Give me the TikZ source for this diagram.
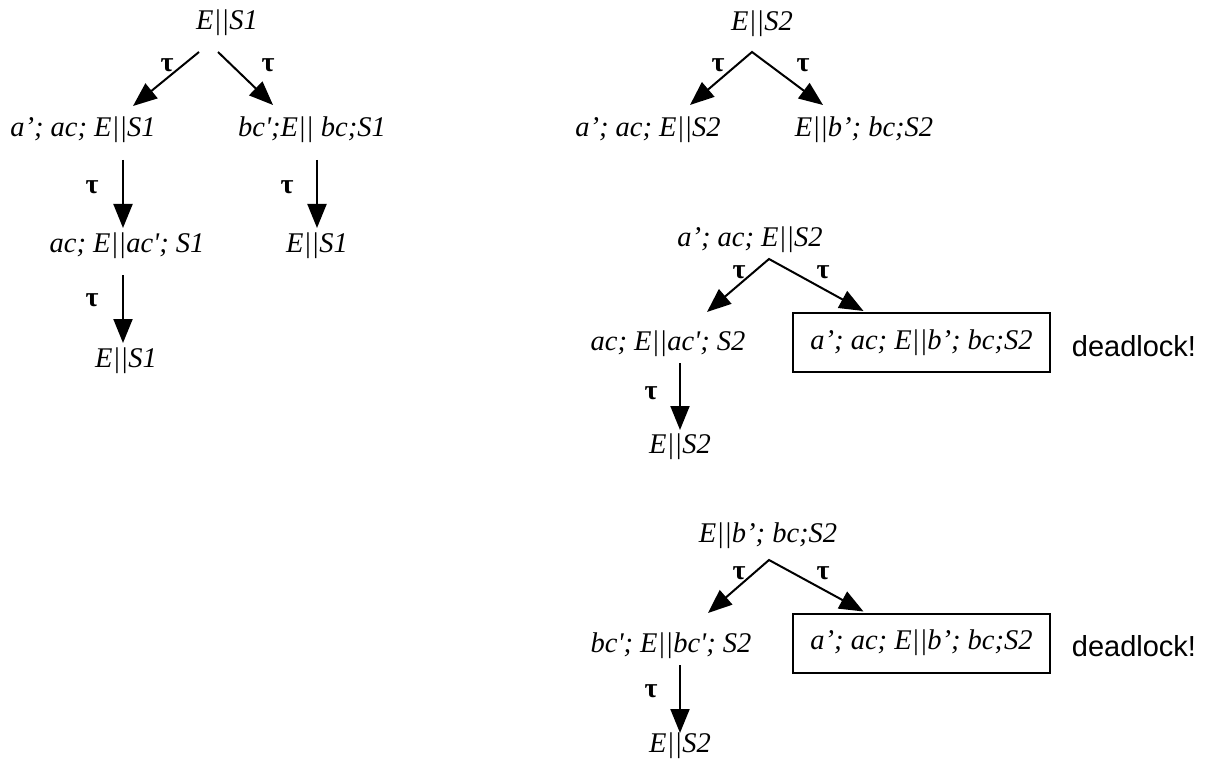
\documentclass[tikz,border=0pt]{standalone}
\usepackage{fontspec}
\setmainfont{Liberation Serif}
\newfontfamily\dlsans{Liberation Sans}
\usetikzlibrary{arrows.meta}
\begin{document}
\begin{tikzpicture}[x=1pt,y=-1pt,
  st/.style={anchor=base,inner sep=0pt,font=\fontsize{28.5}{32}\selectfont\itshape},
  tau/.style={inner sep=0pt,font=\fontsize{28}{32}\selectfont\bfseries\upshape},
  arr/.style={line width=2pt,-{Triangle[length=24pt,width=19pt]}},
  darr/.style={line width=2pt,{Triangle[length=24pt,width=19pt]}-{Triangle[length=24pt,width=19pt]}},
  dbox/.style={draw,line width=2pt,inner sep=0pt,minimum width=257pt,minimum height=59pt,font=\fontsize{28.5}{32}\selectfont\itshape},
  dl/.style={anchor=base,inner sep=0pt,font=\fontsize{29}{33}\selectfont\dlsans}]
\useasboundingbox (0,0) rectangle (1205,762);
% ---------- left tree ----------
\node[st] (s1) at (227,30) {E||S1};
\node[st] (a1) at (83,137) {a’; ac; E||S1};
\node[st] (b1) at (312,137) {bc\textquotesingle;E|| bc;S1};
\node[st] (c1) at (127,253) {ac; E||ac\textquotesingle; S1};
\node[st] (d1) at (317,253) {E||S1};
\node[st] (e1) at (126,367) {E||S1};
\draw[arr] ([shift={(-28,22)}]s1.base) -- ([shift={(50,-31)}]a1.base);
\draw[arr] ([shift={(-9,22)}]s1.base) -- ([shift={(-39,-32)}]b1.base);
\draw[arr] ([shift={(40,23)}]a1.base) -- ([shift={(-4,-25)}]c1.base);
\draw[arr] ([shift={(5,23)}]b1.base) -- ([shift={(0,-25)}]d1.base);
\draw[arr] ([shift={(-4,22)}]c1.base) -- ([shift={(-3,-24)}]e1.base);
\node[tau] (t1) at (167,65) {τ};
\node[tau] (t2) at (268,65) {τ};
\node[tau] (t3) at (92,187) {τ};
\node[tau] (t4) at (287,187) {τ};
\node[tau] (t5) at (92,300) {τ};
% ---------- right top tree ----------
\node[st] (s2) at (762,31) {E||S2};
\node[st] (a2) at (648,137) {a’; ac; E||S2};
\node[st] (b2) at (864,137) {E||b’; bc;S2};
\draw[darr] ([shift={(42,-32)}]a2.base) -- ([shift={(-10,21)}]s2.base) -- ([shift={(-41,-32)}]b2.base);
\node[tau] (t6) at (718,65) {τ};
\node[tau] (t7) at (803,65) {τ};
% ---------- middle tree ----------
\node[st] (m) at (750,247) {a’; ac; E||S2};
\node[st] (mL) at (668,350) {ac; E||ac\textquotesingle; S2};
\node[dbox] (bx1) at (921.5,342.5) {a’; ac; E||b’; bc;S2};
\node[st] (mE) at (680,453) {E||S2};
\node[dl] (dl1) at (1134,356) {deadlock!};
\draw[darr] ([shift={(39,-38)}]mL.base) -- ([shift={(19,12)}]m.base) -- ([shift={(-58,-1)}]bx1.north);
\draw[arr] ([shift={(12,13)}]mL.base) -- ([shift={(0,-23)}]mE.base);
\node[tau] (t8) at (739,272) {τ};
\node[tau] (t9) at (823,272) {τ};
\node[tau] (t10) at (651,393) {τ};
% ---------- bottom tree ----------
\node[st] (n) at (768,542) {E||b’; bc;S2};
\node[st] (nL) at (671,652) {bc\textquotesingle; E||bc\textquotesingle; S2};
\node[dbox] (bx2) at (921.5,643) {a’; ac; E||b’; bc;S2};
\node[st] (nE) at (680,752) {E||S2};
\node[dl] (dl2) at (1134,656) {deadlock!};
\draw[darr] ([shift={(37,-39)}]nL.base) -- ([shift={(1,18)}]n.base) -- ([shift={(-58,-1)}]bx2.north);
\draw[arr] ([shift={(9,13)}]nL.base) -- ([shift={(0,-19)}]nE.base);
\node[tau] (t11) at (739,573) {τ};
\node[tau] (t12) at (823,573) {τ};
\node[tau] (t13) at (651,691) {τ};
\end{tikzpicture}
\end{document}
